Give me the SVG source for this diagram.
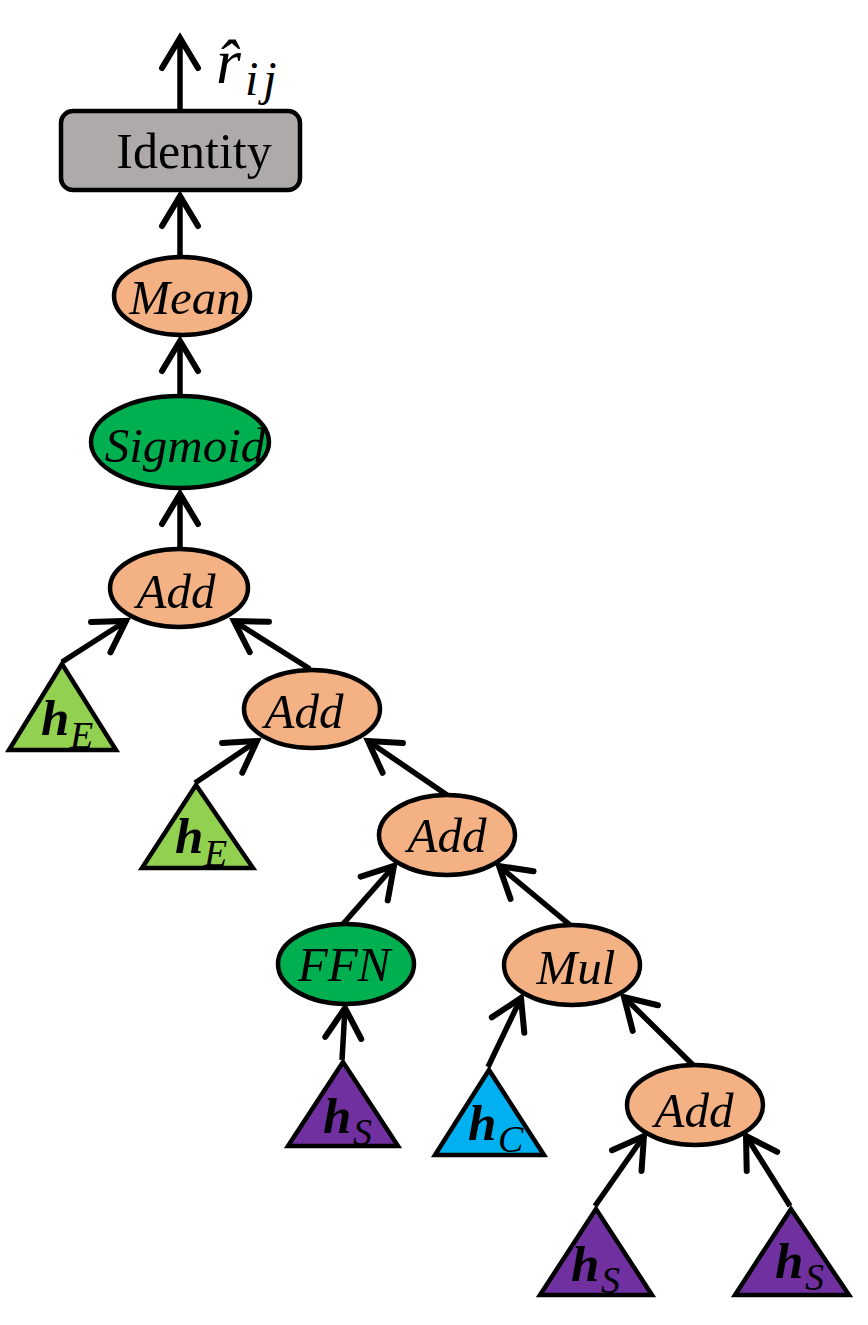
<svg xmlns="http://www.w3.org/2000/svg" width="868" height="1325" viewBox="0 0 868 1325">
  <style>
    .edge { stroke: #000; stroke-width: 5.5; fill: none; marker-end: url(#arrow); }
    .node { stroke: #000; stroke-width: 4.5; }
    .op { fill: #f4b183; }
    .act { fill: #00b050; }
    .box { fill: #aeaaaa; }
    .tri { stroke: #000; stroke-width: 4.5; stroke-linejoin: miter; }
    .lbl { font-family: "Liberation Serif", "Times New Roman", serif; font-size: 49px; font-style: italic; fill: #000; text-anchor: middle; }
    .hv { font-family: "Liberation Serif", "Times New Roman", serif; font-size: 51px; font-style: italic; font-weight: bold; fill: #000; }
    .sub { font-family: "Liberation Serif", "Times New Roman", serif; font-size: 38px; font-style: italic; font-weight: normal; fill: #000; }
  </style>
  <defs>
    <marker id="arrow" markerUnits="userSpaceOnUse" markerWidth="80" markerHeight="80" refX="0" refY="0" orient="auto" viewBox="-40 -40 80 80" overflow="visible">
      <path d="M-30,-18 L0,0 L-30,18" fill="none" stroke="#000" stroke-width="6" stroke-linecap="round" stroke-linejoin="miter"/>
    </marker>
  </defs>

  <!-- connectors: child to parent, arrowhead at parent -->
  <g id="connectors">
    <line class="edge" x1="180" y1="109" x2="180" y2="38"/>
    <line class="edge" x1="180" y1="255" x2="180" y2="196"/>
    <line class="edge" x1="180" y1="396" x2="180" y2="341"/>
    <line class="edge" x1="180" y1="549" x2="180" y2="494"/>
    <line class="edge" x1="62" y1="662" x2="126" y2="621"/>
    <line class="edge" x1="310" y1="669" x2="234" y2="621"/>
    <line class="edge" x1="195" y1="783" x2="257" y2="741"/>
    <line class="edge" x1="447" y1="795" x2="368" y2="741"/>
    <line class="edge" x1="343" y1="924" x2="394" y2="866"/>
    <line class="edge" x1="570" y1="925" x2="499" y2="866"/>
    <line class="edge" x1="342" y1="1060" x2="345" y2="1008"/>
    <line class="edge" x1="488" y1="1067" x2="521" y2="998"/>
    <line class="edge" x1="693" y1="1065" x2="624" y2="997"/>
    <line class="edge" x1="595" y1="1206" x2="644" y2="1136"/>
    <line class="edge" x1="790" y1="1206" x2="746" y2="1136"/>
  </g>

  <!-- output label -->
  <g id="output">
    <text x="216" y="83" font-family="Liberation Serif, serif" font-size="64" font-style="italic">r&#x302;</text>
    <text x="245" y="95" font-family="Liberation Serif, serif" font-size="48" font-style="italic" letter-spacing="5">ij</text>
  </g>

  <g id="identity">
    <rect class="node box" x="61" y="111" width="239" height="79" rx="12"/>
    <text x="194" y="168" font-family="Liberation Serif, 'Times New Roman', serif" font-size="50" text-anchor="middle">Identity</text>
  </g>

  <g id="mean">
    <ellipse class="node op" cx="182" cy="296" rx="68" ry="39"/>
    <text class="lbl" x="185" y="314">Mean</text>
  </g>

  <g id="sigmoid">
    <ellipse class="node act" cx="180" cy="442" rx="89" ry="46"/>
    <text class="lbl" x="185" y="462" font-size="51">Sigmoid</text>
  </g>

  <g id="add1">
    <ellipse class="node op" cx="179" cy="588" rx="69" ry="39"/>
    <text class="lbl" x="176" y="608">Add</text>
  </g>

  <g id="hE1">
    <polygon class="tri" fill="#92d050" points="62,664 9,750 116,750"/>
    <text class="hv" x="41" y="735">h</text>
    <text class="sub" x="70" y="748">E</text>
  </g>

  <g id="add2">
    <ellipse class="node op" cx="312" cy="709" rx="68" ry="39"/>
    <text class="lbl" x="304" y="728">Add</text>
  </g>

  <g id="hE2">
    <polygon class="tri" fill="#92d050" points="196,785 142,868 253,868"/>
    <text class="hv" x="175" y="853">h</text>
    <text class="sub" x="204" y="866">E</text>
  </g>

  <g id="add3">
    <ellipse class="node op" cx="447" cy="835" rx="68" ry="40"/>
    <text class="lbl" x="447" y="852">Add</text>
  </g>

  <g id="ffn">
    <ellipse class="node act" cx="346" cy="964" rx="68" ry="40"/>
    <text class="lbl" x="344" y="981" font-size="52">FFN</text>
  </g>

  <g id="mul">
    <ellipse class="node op" cx="572" cy="965" rx="68" ry="40"/>
    <text class="lbl" x="576" y="984">Mul</text>
  </g>

  <g id="hS1">
    <polygon class="tri" fill="#7030a0" points="343,1062 288,1146 398,1146"/>
    <text class="hv" x="323" y="1133">h</text>
    <text class="sub" x="353" y="1145">S</text>
  </g>

  <g id="hC">
    <polygon class="tri" fill="#00b0f0" points="489,1070 435,1155 544,1155"/>
    <text class="hv" x="468" y="1140">h</text>
    <text class="sub" x="498" y="1152">C</text>
  </g>

  <g id="add4">
    <ellipse class="node op" cx="695" cy="1105" rx="68" ry="40"/>
    <text class="lbl" x="694" y="1127">Add</text>
  </g>

  <g id="hS2">
    <polygon class="tri" fill="#7030a0" points="596,1209 540,1295 652,1295"/>
    <text class="hv" x="571" y="1281">h</text>
    <text class="sub" x="601" y="1293">S</text>
  </g>

  <g id="hS3">
    <polygon class="tri" fill="#7030a0" points="791,1209 735,1295 849,1295"/>
    <text class="hv" x="775" y="1278">h</text>
    <text class="sub" x="805" y="1290">S</text>
  </g>
</svg>
